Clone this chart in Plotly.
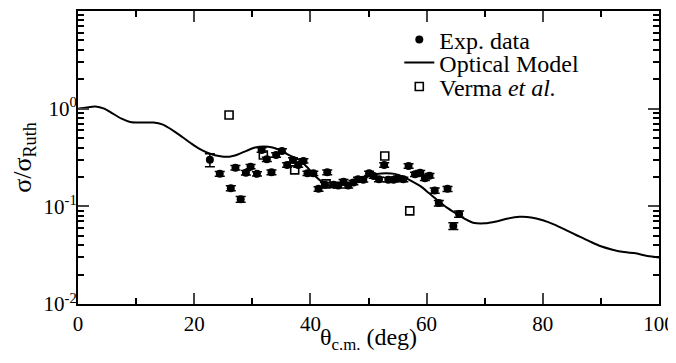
import plotly.graph_objects as go

# Optical model curve
om_theta = [0, 1.5, 3, 4.5, 6, 7.5, 9, 11, 13, 14.5, 16.5, 18, 19.5, 21, 22.5, 24.5, 26,
            27.5, 29, 30.5, 32, 33.5, 35, 36.5, 38, 39.5, 41, 42.5, 44, 45.5, 47, 48.5,
            50, 51.5, 53, 54.5, 56, 57.5, 59, 60.5, 62, 63.5, 65, 66.5, 68, 70, 72, 74,
            76, 78, 80, 82, 84, 86, 88, 90, 92, 94, 96, 98, 100]
om_sigma = [1.00, 1.03, 1.05, 1.00, 0.89, 0.79, 0.73, 0.72, 0.72, 0.69, 0.59, 0.51, 0.44,
            0.385, 0.35, 0.325, 0.322, 0.34, 0.37, 0.40, 0.41, 0.40, 0.37, 0.33, 0.30,
            0.25, 0.20, 0.17, 0.16, 0.165, 0.175, 0.19, 0.205, 0.215, 0.218, 0.215, 0.20,
            0.18, 0.16, 0.135, 0.114, 0.097, 0.085, 0.075, 0.068, 0.067, 0.070, 0.075,
            0.078, 0.077, 0.072, 0.065, 0.057, 0.050, 0.044, 0.039, 0.036, 0.034, 0.033,
            0.031, 0.030]

# Experimental data
exp_theta = [22.7, 24.4, 26.3, 27.1, 28.0, 28.9, 29.7, 30.8, 31.6, 32.5, 33.3, 34.1, 35.1,
             36.0, 37.0, 37.9, 38.8, 39.5, 40.5, 41.4, 42.5, 42.9, 44.0, 44.8, 45.7, 46.5,
             47.4, 48.2, 49.1, 50.1, 50.9, 51.8, 52.7, 53.4, 54.3, 55.1, 56.0, 56.9, 58.0,
             58.9, 59.7, 60.5, 61.4, 62.1, 63.6, 64.6, 65.6]
exp_sigma = [0.30, 0.215, 0.153, 0.249, 0.118, 0.221, 0.255, 0.215, 0.377, 0.303, 0.223,
             0.336, 0.369, 0.265, 0.299, 0.265, 0.292, 0.218, 0.218, 0.151, 0.166, 0.223,
             0.166, 0.163, 0.179, 0.163, 0.175, 0.189, 0.187, 0.218, 0.205, 0.189, 0.265,
             0.187, 0.187, 0.194, 0.189, 0.259, 0.213, 0.221, 0.194, 0.206, 0.145, 0.108,
             0.151, 0.063, 0.0835]
exp_err = [0.045, 0.012, 0.009, 0.013, 0.008, 0.012, 0.013, 0.011, 0.02, 0.016, 0.012,
           0.017, 0.019, 0.014, 0.016, 0.014, 0.015, 0.011, 0.011, 0.008, 0.009, 0.012,
           0.009, 0.009, 0.009, 0.009, 0.009, 0.010, 0.010, 0.011, 0.011, 0.010, 0.014,
           0.010, 0.010, 0.010, 0.010, 0.014, 0.011, 0.012, 0.010, 0.011, 0.009, 0.007,
           0.009, 0.005, 0.006]

# Verma et al.
verma_theta = [26.0, 31.9, 37.3, 42.7, 52.8, 57.1]
verma_sigma = [0.86, 0.336, 0.236, 0.17, 0.328, 0.0898]

y_tickvals = [0.01, 0.1, 1, 10]
y_ticktext = ["10<sup>-2</sup>", "10<sup>-1</sup>", "10<sup>0</sup>", "10<sup>1</sup>"]
x_tickvals = [0, 20, 40, 60, 80, 100]
x_minor = [10, 30, 50, 70, 90]
y_minor = [m * 10 ** e for e in (-2, -1, 0) for m in range(2, 10)]

FONT = "Liberation Serif"

fig = go.Figure()
fig.add_trace(go.Scatter(
    x=exp_theta, y=exp_sigma, mode="markers", name="Exp. data", legend="legend",
    marker=dict(symbol="circle", size=8, color="black"),
    error_y=dict(type="data", array=exp_err, visible=True, color="black",
                 thickness=1.5, width=5),
))
fig.add_trace(go.Scatter(
    x=om_theta, y=om_sigma, mode="lines", name="Optical Model", legend="legend2",
    line=dict(color="black", width=2, shape="spline", smoothing=0.8),
))
fig.add_trace(go.Scatter(
    x=verma_theta, y=verma_sigma, mode="markers", name="Verma <i>et al.</i>",
    legend="legend3",
    marker=dict(symbol="square-open", size=8, color="black", line=dict(width=1.6)),
))
# helper trace so the minor-tick overlay axes exist
fig.add_trace(go.Scatter(x=[None], y=[None], xaxis="x2", yaxis="y2",
                         showlegend=False, hoverinfo="skip"))

leg_common = dict(xanchor="left", yanchor="middle", bgcolor="rgba(0,0,0,0)",
                  borderwidth=0, font=dict(family=FONT, size=24, color="black"))

# The page body adds an 8px offset, so the figure is drawn 8px smaller.
fig.update_layout(
    width=668, height=355,
    margin=dict(l=70, r=17, t=3, b=59),
    paper_bgcolor="white", plot_bgcolor="white",
    font=dict(family=FONT, color="black", size=20),
    showlegend=True,
    legend=dict(x=0.553, y=0.901, **leg_common),
    legend2=dict(x=0.553, y=0.823, **leg_common),
    legend3=dict(x=0.553, y=0.741, **leg_common),
    xaxis=dict(
        range=[0, 100], tickvals=x_tickvals, ticks="inside", ticklen=11, tickwidth=1.5,
        showline=True, linecolor="black", linewidth=2, mirror="ticks",
        showgrid=False, zeroline=False, automargin=False,
        tickfont=dict(family=FONT, size=21),
    ),
    yaxis=dict(
        type="log", range=[-2, 1], tickvals=y_tickvals, ticktext=y_ticktext,
        ticks="inside", ticklen=11, tickwidth=1.5, ticklabelstandoff=-5,
        showline=True, linecolor="black", linewidth=2, mirror="ticks",
        showgrid=False, zeroline=False, automargin=False,
        tickfont=dict(family=FONT, size=21),
        title=dict(text="σ/σ<sub>Ruth</sub>", font=dict(family=FONT, size=26), standoff=12),
    ),
    xaxis2=dict(
        overlaying="x", anchor="y2", side="bottom", range=[0, 100], tickvals=x_minor,
        ticks="inside", ticklen=6, tickwidth=1.5, tickcolor="black",
        showticklabels=False, showline=False, mirror="ticks",
        showgrid=False, zeroline=False, automargin=False,
    ),
    yaxis2=dict(
        overlaying="y", anchor="x2", side="left", type="log", range=[-2, 1],
        tickvals=y_minor, ticks="inside", ticklen=6, tickwidth=1.5, tickcolor="black",
        showticklabels=False, showline=False, mirror="ticks",
        showgrid=False, zeroline=False, automargin=False,
    ),
    annotations=[dict(
        text="θ<sub>c.m.</sub> (deg)", xref="paper", yref="paper", x=0.5, y=0,
        xanchor="center", yanchor="top", yshift=-18, showarrow=False,
        font=dict(family=FONT, size=24, color="black"),
    )],
)

fig.write_html("out.html")
